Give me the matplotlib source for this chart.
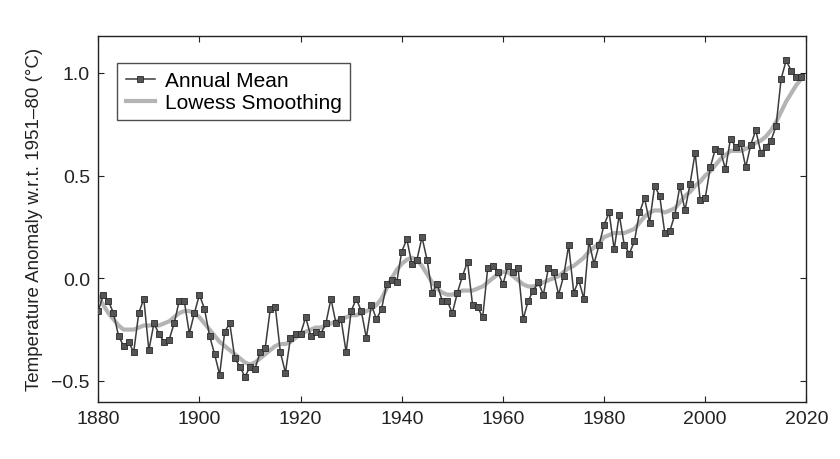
import matplotlib
matplotlib.use("Agg")
import matplotlib.pyplot as plt
from matplotlib.ticker import FuncFormatter

plt.rcParams['font.family'] = ['Liberation Sans', 'DejaVu Sans']

years = list(range(1880, 2020))

annual_mean = [
    -0.16, -0.08, -0.11, -0.17, -0.28, -0.33, -0.31, -0.36, -0.17, -0.10,
    -0.35, -0.22, -0.27, -0.31, -0.30, -0.22, -0.11, -0.11, -0.27, -0.17,
    -0.08, -0.15, -0.28, -0.37, -0.47, -0.26, -0.22, -0.39, -0.43, -0.48,
    -0.43, -0.44, -0.36, -0.34, -0.15, -0.14, -0.36, -0.46, -0.29, -0.27,
    -0.27, -0.19, -0.28, -0.26, -0.27, -0.22, -0.10, -0.22, -0.20, -0.36,
    -0.16, -0.10, -0.16, -0.29, -0.13, -0.20, -0.15, -0.03, -0.01, -0.02,
    0.13, 0.19, 0.07, 0.09, 0.20, 0.09, -0.07, -0.03, -0.11, -0.11,
    -0.17, -0.07, 0.01, 0.08, -0.13, -0.14, -0.19, 0.05, 0.06, 0.03,
    -0.03, 0.06, 0.03, 0.05, -0.20, -0.11, -0.06, -0.02, -0.08, 0.05,
    0.03, -0.08, 0.01, 0.16, -0.07, -0.01, -0.10, 0.18, 0.07, 0.16,
    0.26, 0.32, 0.14, 0.31, 0.16, 0.12, 0.18, 0.32, 0.39, 0.27,
    0.45, 0.40, 0.22, 0.23, 0.31, 0.45, 0.33, 0.46, 0.61, 0.38,
    0.39, 0.54, 0.63, 0.62, 0.53, 0.68, 0.64, 0.66, 0.54, 0.65,
    0.72, 0.61, 0.64, 0.67, 0.74, 0.97, 1.06, 1.01, 0.98, 0.98,
]

lowess = [
    -0.09, -0.13, -0.17, -0.20, -0.23, -0.25, -0.25, -0.25, -0.24, -0.23,
    -0.23, -0.23, -0.23, -0.22, -0.21, -0.19, -0.17, -0.16, -0.16, -0.17,
    -0.19, -0.22, -0.25, -0.28, -0.31, -0.33, -0.35, -0.37, -0.39, -0.41,
    -0.42, -0.41, -0.39, -0.37, -0.35, -0.33, -0.32, -0.32, -0.31, -0.29,
    -0.27, -0.26, -0.25, -0.24, -0.24, -0.23, -0.22, -0.21, -0.20, -0.19,
    -0.18, -0.18, -0.17, -0.16, -0.15, -0.13, -0.10, -0.05, 0.00, 0.04,
    0.07, 0.09, 0.10, 0.09, 0.06, 0.02, -0.02, -0.05, -0.07, -0.08,
    -0.08, -0.07, -0.06, -0.06, -0.06, -0.05, -0.04, -0.02, 0.00, 0.02,
    0.03, 0.03, 0.01, -0.01, -0.03, -0.04, -0.04, -0.03, -0.02, -0.01,
    0.00, 0.01, 0.03, 0.05, 0.06, 0.08, 0.10, 0.13, 0.15, 0.17,
    0.20, 0.21, 0.22, 0.22, 0.22, 0.23, 0.24, 0.27, 0.30, 0.32,
    0.33, 0.33, 0.32, 0.33, 0.34, 0.37, 0.40, 0.42, 0.45, 0.47,
    0.50, 0.52, 0.55, 0.58, 0.60, 0.62, 0.62, 0.62, 0.63, 0.64,
    0.66, 0.67, 0.69, 0.72, 0.76, 0.81, 0.86, 0.90, 0.94, 0.97,
]

x_ticks = [1880, 1900, 1920, 1940, 1960, 1980, 2000, 2020]
y_ticks = [-0.5, 0.0, 0.5, 1.0]

fig = plt.figure(figsize=(8.4, 4.6), dpi=100)
ax = fig.add_axes([0.117, 0.125, 0.843, 0.795])

ax.plot(years, lowess, color='#b4b4b4', lw=3.0, label='Lowess Smoothing', zorder=2)
ax.plot(years, annual_mean, color='#3c3c3c', lw=1.1, marker='s', markersize=4.5,
        markerfacecolor='#555555', markeredgecolor='#2a2a2a', markeredgewidth=0.6,
        label='Annual Mean', zorder=3)

ax.set_xlim(1880, 2020)
ax.set_ylim(-0.6, 1.18)
ax.set_xticks(x_ticks)
ax.set_yticks(y_ticks)
ax.yaxis.set_major_formatter(FuncFormatter(lambda v, p: f"{v:.1f}".replace('-', '\u2212')))
ax.tick_params(direction='in', top=True, right=True, length=4, width=0.8,
               labelsize=14, colors='#222222', pad=6)
for s in ax.spines.values():
    s.set_linewidth(1.0)
    s.set_color('#222222')

ax.set_ylabel('Temperature Anomaly w.r.t. 1951\u201380 (\u00b0C)', fontsize=13.5,
              color='#222222', labelpad=6)

handles, labels = ax.get_legend_handles_labels()
leg = ax.legend(handles[::-1], labels[::-1], loc='upper left', fontsize=15,
                frameon=True, fancybox=False, edgecolor='#222222',
                handlelength=1.4, handletextpad=0.5, borderpad=0.4,
                labelspacing=0.15, bbox_to_anchor=(0.012, 0.955))
leg.get_frame().set_linewidth(1.0)

fig.savefig('out.png', dpi=100, facecolor='white')
